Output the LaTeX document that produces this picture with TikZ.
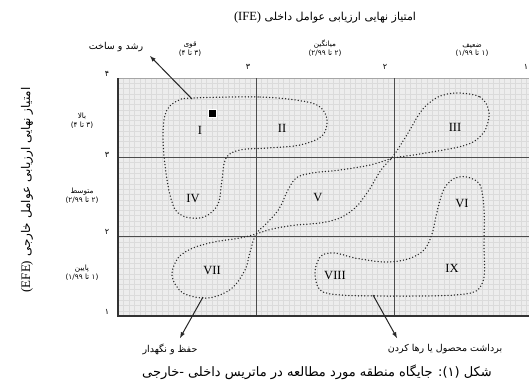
\documentclass[tikz,border=0pt]{standalone}
\usepackage{fontspec}
\setmainfont{Liberation Serif}
\newfontfamily\fa[Script=Arabic]{DejaVu Sans}
\TeXXeTstate=1
\usetikzlibrary{positioning}

\begin{document}
\begin{tikzpicture}[
    x=1pt, y=-1pt,
    >=latex,
    ttl/.style={inner sep=1pt, font=\fa\fontsize{11}{13}\selectfont},
    lbl/.style={inner sep=1pt, font=\fa\fontsize{7.3}{8.8}\selectfont, align=center},
    note/.style={inner sep=1pt, font=\fa\fontsize{9.5}{11}\selectfont},
    tick/.style={inner sep=1pt, font=\fa\fontsize{8}{9}\selectfont},
    zone/.style={inner sep=0pt, font=\fontsize{12.5}{12.5}\selectfont},
    capt/.style={inner sep=1pt, font=\fa\fontsize{13}{15}\selectfont},
    blob/.style={draw=black!85, line width=1.5pt, dash pattern=on 0pt off 3.2pt, line cap=round},
    arr/.style={->, draw=black!85, line width=1pt},
    major/.style={draw=black!70, line width=0.9pt}
]
\fill[white] (0,0) rectangle (529,383);
\useasboundingbox (0,0) rectangle (529,383);

% Matrix background
\fill[black!7] (118,78) rectangle (529,316);
\begin{scope}[shift={(118,78)}]
\draw[black!14, line width=0.3pt, xstep=5.52pt, ystep=5.29pt] (0,0) grid (411,238);
\end{scope}
\draw[black!35, line width=0.6pt] (118,78) -- (529,78);
\draw[major] (256,78) -- (256,316);
\draw[major] (394,78) -- (394,316);
\draw[major] (118,157.3) -- (529,157.3);
\draw[major] (118,236.7) -- (529,236.7);
\draw[black!80, line width=1.8pt] (118,78) -- (118,316) -- (529,316);

% Axis titles
\node[ttl] (ifettl) at (325,18) {\beginR امتیاز نهایی ارزیابی عوامل داخلی \beginL{\rmfamily\fontsize{12.5}{12}\selectfont (IFE)}\endL\endR};
\node[ttl, rotate=90, font=\fa\fontsize{12}{14}\selectfont] (efettl) at (27,190) {\beginR امتیاز نهایی ارزیابی عوامل خارجی \beginL{\rmfamily\fontsize{13}{12}\selectfont (EFE)}\endL\endR};

% Column and row headings
\node[lbl] (strong) at (190,49) {قوی\\\beginR(۳ تا ۴)\endR};
\node[lbl] (medium) at (325,48) {میانگین\\\beginR(۲ تا ۲/۹۹)\endR};
\node[lbl] (weak) at (472,50) {ضعیف\\\beginR(۱ تا ۱/۹۹)\endR};
\node[lbl] (high) at (82,121) {بالا\\\beginR(۳ تا ۴)\endR};
\node[lbl] (avg) at (82,196) {متوسط\\\beginR(۲ تا ۲/۹۹)\endR};
\node[lbl] (low) at (82,273) {پایین\\\beginR(۱ تا ۱/۹۹)\endR};

% Scale numbers
\node[tick] (tx3) at (248,67) {۳};
\node[tick] (tx2) at (385,67) {۲};
\node[tick] (tx1) at (526,67) {۱};
\node[tick] (ty4) at (107,74) {۴};
\node[tick] (ty3) at (107,155) {۳};
\node[tick] (ty2) at (107,232) {۲};
\node[tick] (ty1) at (107,312) {۱};

% Cells
\node[zone] (c1) at (200,130) {I};
\node[zone] (c2) at (282,128) {II};
\node[zone] (c3) at (455,127) {III};
\node[zone] (c4) at (193,198) {IV};
\node[zone] (c5) at (318,197) {V};
\node[zone] (c6) at (462,203) {VI};
\node[zone] (c7) at (212,270) {VII};
\node[zone] (c8) at (335,275) {VIII};
\node[zone] (c9) at (452,268) {IX};
\node[fill=black, draw=white, line width=0.5pt, minimum size=7.5pt, inner sep=0pt] (site) at (212,113) {};

% Strategy regions
\draw[blob] plot[smooth cycle, tension=0.6] coordinates {
  (193,98) (260,97) (302,101) (320,107) (327,120) (322,136) (300,145) (268,148)
  (240,150) (226,158) (222,180) (218,204) (206,216) (191,218) (177,212)
  (170,195) (165,165) (163,135) (166,112) (177,101)};
\draw[blob] plot[smooth cycle, tension=0.55] coordinates {
  (457,93) (480,97) (489,112) (484,132) (466,145) (420,154) (394,158) (370,165)
  (340,170) (312,173) (296,178) (287,192) (279,209) (266,224) (256,234)
  (250,252) (245,270) (231,289) (208,298) (183,293) (172,276) (178,258)
  (193,248) (214,242) (240,238) (256,234) (272,229) (296,225) (320,223)
  (340,218) (356,207) (369,190) (381,170) (394,155) (408,133) (422,110) (438,97)};
\draw[blob] plot[smooth cycle, tension=0.55] coordinates {
  (467,177) (480,185) (484,210) (484,245) (484,277) (476,291) (455,295)
  (420,296) (380,296) (340,295) (320,290) (315,272) (321,256) (335,253)
  (355,258) (385,262) (408,259) (424,250) (432,234) (437,212) (443,191) (453,179)};

% Strategy labels
\node[note] (grow) at (116,47) {\beginR رشد و ساخت\endR};
\node[note] (keep) at (170,349) {\beginR حفظ و نگهدار\endR};
\node[note] (harvest) at (445,349) {\beginR برداشت محصول یا رها کردن\endR};

\coordinate (growpt) at (192,99);
\coordinate (keeppt) at (203,297);
\coordinate (harvpt) at (373,295);
\coordinate (growend) at (150,56);
\coordinate (keepend) at (180,338);
\coordinate (harvend) at (397,338);
\draw[arr] (growpt) -- (growend);
\draw[arr] (keeppt) -- (keepend);
\draw[arr] (harvpt) -- (harvend);

% Caption
\node[capt] (caption) at (317,372) {\beginR شکل (۱): جایگاه منطقه مورد مطالعه  در ماتریس داخلی -خارجی\endR};

\end{tikzpicture}
\end{document}
